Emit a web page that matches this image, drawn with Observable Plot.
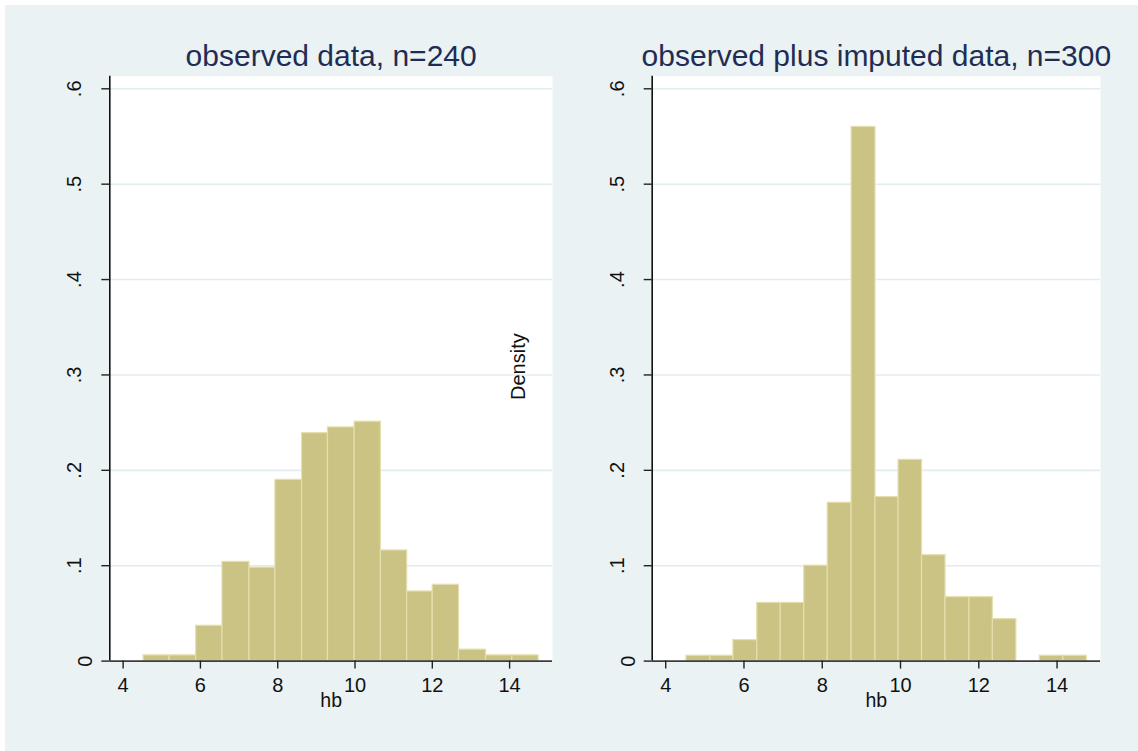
<!DOCTYPE html>
<html>
<head>
<meta charset="utf-8">
<script src="https://cdn.jsdelivr.net/npm/d3@7"></script>
<script src="https://cdn.jsdelivr.net/npm/@observablehq/plot@0.6"></script>
<style>
  html, body { margin: 0; padding: 0; background: #ffffff; overflow: hidden; }
  #wrap { position: relative; width: 1138px; height: 751px; overflow: hidden; }
  #bg { position: absolute; left: 5px; top: 5px; right: 0; bottom: 0; background: #EAF2F3; }
  .panel { position: absolute; top: 0; height: 751px; }
  .panel svg { max-width: none !important; }
</style>
</head>
<body>
<div id="wrap">
  <div id="bg"></div>
  <div id="p1" class="panel" style="left:0px;width:560px"></div>
  <div id="p2" class="panel" style="left:560px;width:578px"></div>
</div>
<script>
// ---- data ----
const titles = ["observed data, n=240", "observed plus imputed data, n=300"];
const xLabel = "hb";
const yLabel = "Density";
const xTicks = [4, 6, 8, 10, 12, 14];
const xTickLabels = ["4", "6", "8", "10", "12", "14"];
const yTicks = [0, 0.1, 0.2, 0.3, 0.4, 0.5, 0.6];
const yTickLabels = ["0", ".1", ".2", ".3", ".4", ".5", ".6"];
const xDomain = [3.655, 15.11];
const yDomain = [0, 0.6132];

// observed data, n=240 (15 bins)
const obsEdges = [4.53, 5.20, 5.89, 6.57, 7.27, 7.94, 8.63, 9.30, 9.99, 10.67, 11.35, 12.01, 12.69, 13.39, 14.07, 14.75];
const obsDensity = [0.006, 0.006, 0.037, 0.104, 0.098, 0.190, 0.239, 0.245, 0.251, 0.116, 0.073, 0.080, 0.012, 0.006, 0.006];

// observed plus imputed data, n=300 (17 bins)
const impEdges = [4.53, 5.14, 5.73, 6.34, 6.94, 7.54, 8.14, 8.75, 9.36, 9.95, 10.55, 11.15, 11.76, 12.36, 12.96, 13.56, 14.16, 14.76];
const impDensity = [0.0056, 0.0056, 0.022, 0.061, 0.061, 0.100, 0.166, 0.560, 0.172, 0.211, 0.111, 0.067, 0.067, 0.044, 0, 0.0056, 0.0056];

// ---- styles ----
const FONT = "'Liberation Sans', Arial, Helvetica, sans-serif";
const BAR_FILL = "#CBC383";
const BAR_STROKE = "#E3DFAE";
const GRID = "#E2ECEF";
const TITLE_COLOR = "#1F2D55";
const TICK_FS = 20;

function panel({edges, density, title, width, marginLeft, marginRight, showYLabel}) {
  const bins = density.map((d, i) => ({x1: edges[i], x2: edges[i + 1], y: d}));
  const marks = [
    Plot.frame({fill: "white", stroke: null}),
    Plot.gridY(yTicks.slice(1), {stroke: GRID, strokeOpacity: 1, strokeWidth: 1.6}),
    Plot.rectY(bins.filter(b => b.y > 0), {x1: "x1", x2: "x2", y: "y", fill: BAR_FILL, stroke: BAR_STROKE, strokeWidth: 1.2}),
    Plot.ruleY([0], {stroke: "#3c3c3c", strokeWidth: 1.6}),
    Plot.ruleX([xDomain[0]], {stroke: "#111111", strokeWidth: 1.6}),
    Plot.axisX({ticks: xTicks, tickSize: 8, tickFormat: () => "", label: null, stroke: "#222", strokeWidth: 1.4}),
    Plot.axisY({ticks: yTicks, tickSize: 8, tickFormat: () => "", label: null, stroke: "#222", strokeWidth: 1.4}),
    Plot.text(xTickLabels, {x: xTicks, text: d => d, frameAnchor: "bottom", dy: 16.3, lineAnchor: "top", textAnchor: "middle", fontSize: TICK_FS, fill: "#111"}),
    Plot.text(yTickLabels.slice(1), {y: yTicks.slice(1), text: d => d, frameAnchor: "left", dx: -35, rotate: -90, textAnchor: "middle", lineAnchor: "middle", fontSize: TICK_FS, fill: "#111"}),
    Plot.text(yTickLabels.slice(0, 1), {y: yTicks.slice(0, 1), text: d => d, frameAnchor: "left", dx: -24, rotate: -90, textAnchor: "middle", lineAnchor: "middle", fontSize: TICK_FS, fill: "#111"}),
    Plot.text([title], {frameAnchor: "top", dy: -10, lineAnchor: "bottom", textAnchor: "middle", fontSize: 30, fill: TITLE_COLOR}),
    Plot.text([xLabel], {frameAnchor: "bottom", dy: 46, lineAnchor: "bottom", textAnchor: "middle", fontSize: 19.5, fill: "#111"})
  ];
  if (showYLabel) {
    marks.push(Plot.text([yLabel], {frameAnchor: "right", dx: -34, dy: -2, rotate: -90, textAnchor: "middle", lineAnchor: "middle", fontSize: 20, fill: "#111"}));
  }
  return Plot.plot({
    width,
    height: 751,
    marginLeft,
    marginRight,
    marginTop: 75.7,
    marginBottom: 90.4,
    x: {domain: xDomain, axis: null},
    y: {domain: yDomain, axis: null},
    style: {background: "transparent", fontFamily: FONT, fontSize: "18px", color: "#111", overflow: "visible"},
    marks
  });
}

document.getElementById("p1").appendChild(panel({
  edges: obsEdges, density: obsDensity, title: titles[0],
  width: 560, marginLeft: 109.3, marginRight: 8, showYLabel: true
}));
document.getElementById("p2").appendChild(panel({
  edges: impEdges, density: impDensity, title: titles[1],
  width: 578, marginLeft: 91.7, marginRight: 38, showYLabel: false
}));
</script>
</body>
</html>
